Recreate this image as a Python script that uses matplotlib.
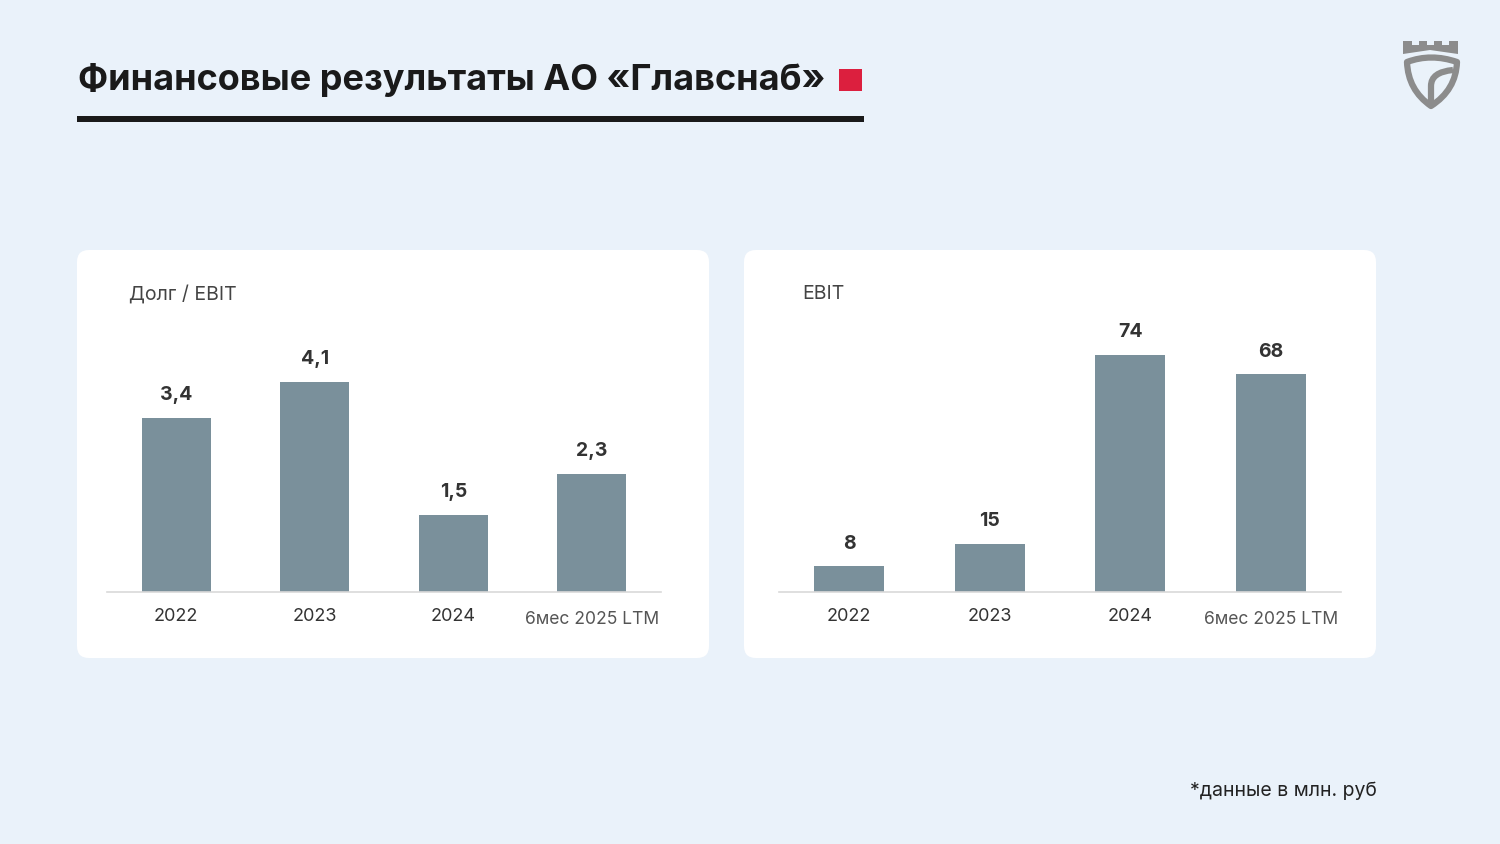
import matplotlib.pyplot as plt
from matplotlib.patches import FancyBboxPatch, Rectangle, Polygon, PathPatch
from matplotlib.path import Path

plt.rcParams['font.family'] = ['Inter', 'DejaVu Sans']

# data
categories = ['2022', '2023', '2024', '6мес 2025 LTM']
debt_ebit = [3.4, 4.1, 1.5, 2.3]
debt_ebit_labels = ['3,4', '4,1', '1,5', '2,3']
ebit = [8, 15, 74, 68]
ebit_labels = ['8', '15', '74', '68']

BG = '#EAF2FA'
BAR = '#7A909B'
TXT = '#333333'
W, H = 1500, 844

fig = plt.figure(figsize=(15, 8.44), dpi=100)
fig.patch.set_facecolor(BG)

bg = fig.add_axes([0, 0, 1, 1])
bg.set_xlim(0, W)
bg.set_ylim(H, 0)
bg.axis('off')
bg.set_zorder(-1)

# title
bg.text(78, 80, 'Финансовые результаты АО «Главснаб»', fontsize=26, fontweight='bold',
        color='#1A1A1A', va='center', ha='left')
bg.add_patch(Rectangle((839, 69), 23, 22, color='#DC1F3E', lw=0))
bg.add_patch(Rectangle((77, 116), 787, 6, color='#1A1A1A', lw=0))

# panels
for x0 in (77, 744):
    bg.add_patch(FancyBboxPatch((x0, 250), 632, 408, boxstyle='round,pad=0,rounding_size=12',
                                fc='white', ec='none'))

bg.text(129, 294, 'Долг / EBIT', fontsize=14, color='#444444', va='center', ha='left')
bg.text(802, 294, 'EBIT', fontsize=14, color='#444444', va='center', ha='left')
bg.text(1377, 791, '*данные в млн. руб', fontsize=14, color='#222222', va='center', ha='right')

# logo
g = '#8C8C8C'
crown = [(1403, 54), (1403, 41), (1412, 41), (1412, 45), (1419, 45), (1419, 41),
         (1427, 41), (1427, 45), (1434, 45), (1434, 41), (1442, 41), (1442, 45),
         (1449, 45), (1449, 41), (1458, 41), (1458, 54), (1430, 50)]
bg.add_patch(Polygon(crown, closed=True, fc=g, ec='none'))
verts = [(1407, 62), (1431, 53), (1457, 62), (1457, 62), (1456, 90), (1431, 106),
         (1431, 106), (1408, 90), (1407, 62), (1407, 62)]
codes = [Path.MOVETO, Path.CURVE3, Path.LINETO, Path.LINETO, Path.CURVE3, Path.LINETO,
         Path.LINETO, Path.CURVE3, Path.LINETO, Path.CLOSEPOLY]
bg.add_patch(PathPatch(Path(verts, codes), fc='none', ec=g, lw=4.5, joinstyle='round'))
inner = Path([(1431, 104), (1431, 86), (1431, 72), (1453, 70)],
             [Path.MOVETO, Path.LINETO, Path.CURVE3, Path.LINETO])
bg.add_patch(PathPatch(inner, fc='none', ec=g, lw=4.5))


def chart(left, right, values, labels, ytop):
    ax = fig.add_axes([left / W, (H - 592) / H, (right - left) / W, 262 / H])
    ax.patch.set_alpha(0)
    x = range(len(values))
    ax.bar(x, values, width=0.5, color=BAR, zorder=2)
    ax.set_xlim(-0.5, 3.5)
    ax.set_ylim(0, ytop)
    for i, (v, lab) in enumerate(zip(values, labels)):
        ax.annotate(lab, (i, v), xytext=(0, 10), textcoords='offset points', ha='center',
                    va='bottom', fontsize=14, fontweight='bold', color=TXT)
    for s in ('top', 'right', 'left'):
        ax.spines[s].set_visible(False)
    ax.spines['bottom'].set_color('#D9D9D9')
    ax.spines['bottom'].set_linewidth(1.2)
    ax.set_yticks([])
    ax.set_xticks(list(x))
    ax.set_xticklabels(categories, fontsize=13, color=TXT)
    ax.tick_params(axis='x', length=0, pad=11.5)
    last = ax.get_xticklabels()[-1]
    last.set_color('#555555')
    last.set_fontsize(12.6)
    last.set_y(-0.01)
    return ax


chart(107, 661, debt_ebit, debt_ebit_labels, 262 / 51.3)
chart(779, 1341, ebit, ebit_labels, 262 / 3.2)

fig.savefig('out.png', dpi=100, facecolor=BG)
